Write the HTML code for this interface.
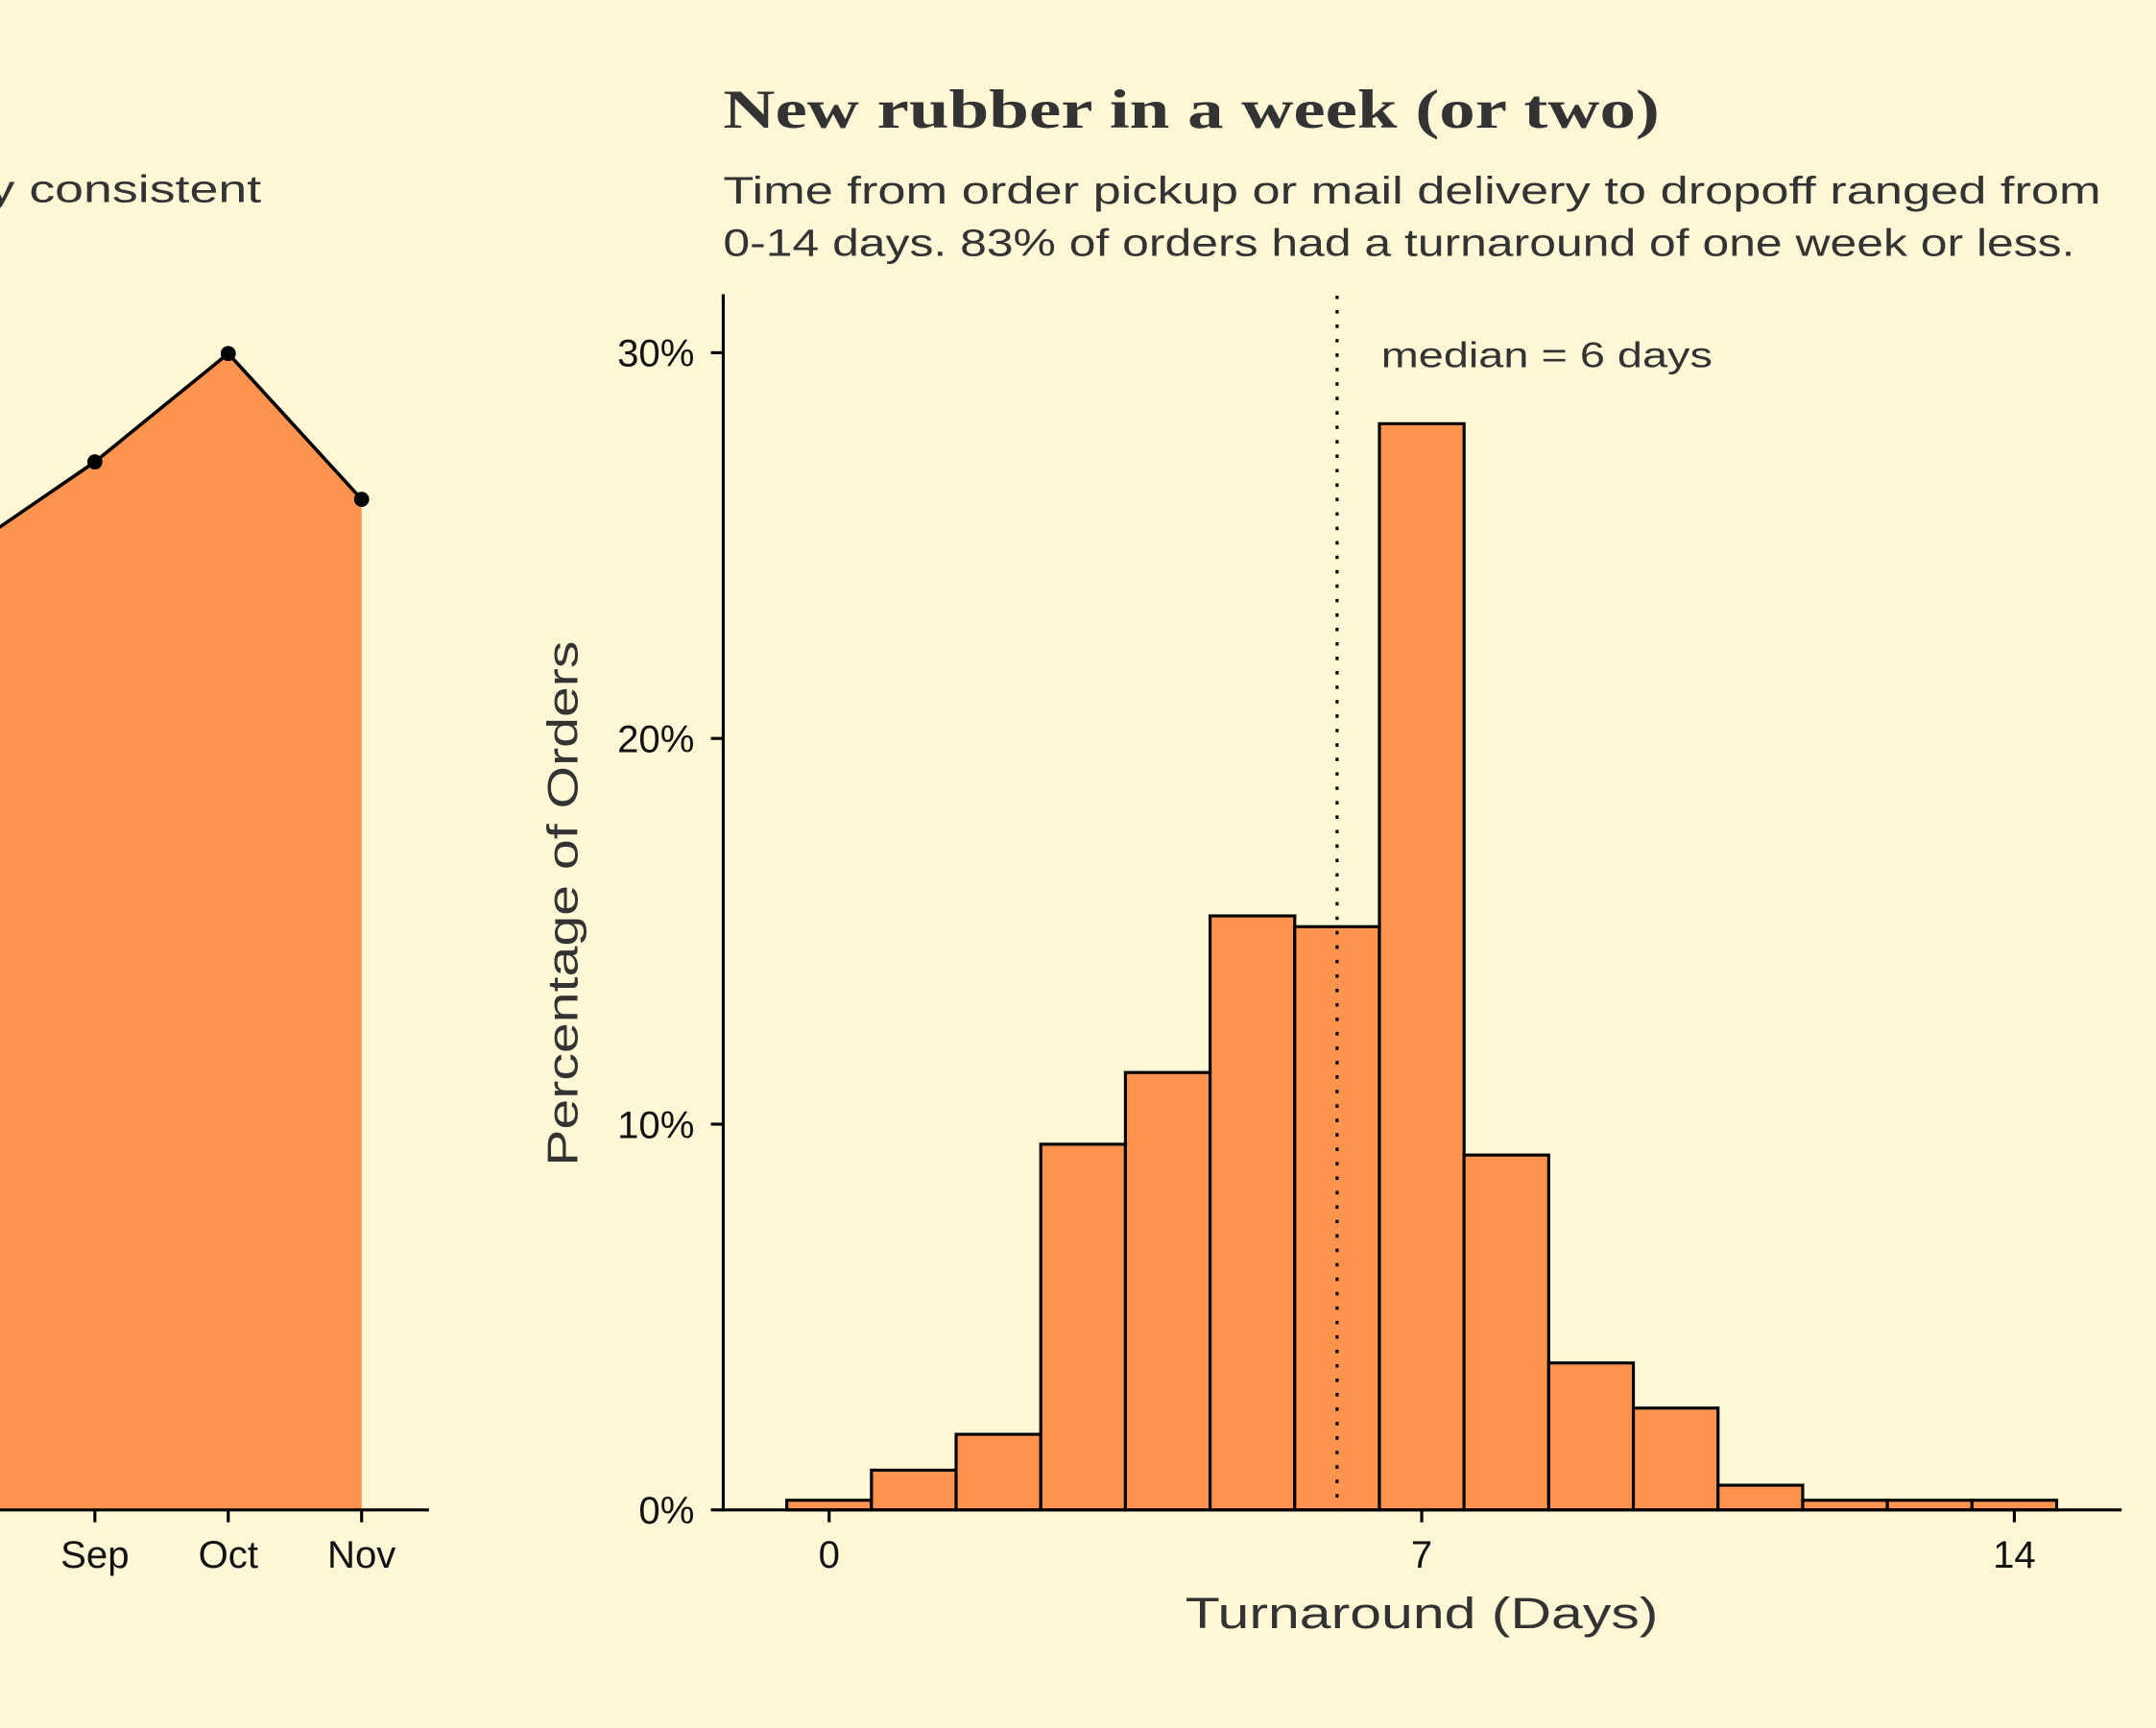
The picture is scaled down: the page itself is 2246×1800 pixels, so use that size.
<!DOCTYPE html>
<html><head><meta charset="utf-8">
<style>
html,body{margin:0;padding:0;background:#FFF7D6;}
svg{display:block;}
text{font-family:"Liberation Sans",sans-serif;}
</style></head>
<body>
<svg id="chart" width="2246" height="1800" viewBox="0 0 1568 1256.6" preserveAspectRatio="none" xmlns="http://www.w3.org/2000/svg">
<rect width="1568" height="1257" fill="#FFF7D6"/>
<text x="-8" y="147" font-size="28" fill="#333" textLength="198" lengthAdjust="spacingAndGlyphs">y consistent</text>
<g id="left"></g>
<text x="526" y="93" font-weight="bold" font-size="40" fill="#333" textLength="681" lengthAdjust="spacingAndGlyphs" style="font-family:'Liberation Serif',serif">New rubber in a week (or two)</text>
<text x="526" y="148" font-size="28" fill="#333" textLength="1002" lengthAdjust="spacingAndGlyphs">Time from order pickup or mail delivery to dropoff ranged from</text>
<text x="526" y="186" font-size="28" fill="#333" textLength="983" lengthAdjust="spacingAndGlyphs">0-14 days. 83% of orders had a turnaround of one week or less.</text>
<g id="hist"></g>
<text x="862" y="1184" font-size="32" fill="#333" textLength="344" lengthAdjust="spacingAndGlyphs">Turnaround (Days)</text>
<text transform="translate(420,848) rotate(-90)" font-size="31" fill="#333" textLength="382" lengthAdjust="spacingAndGlyphs">Percentage of Orders</text>
</svg>
<script>
const days = [0,1,2,3,4,5,6,7,8,9,10,11,12,13,14];
const pct = [0.25,1.03,1.96,9.48,11.34,15.4,15.12,28.16,9.2,3.81,2.64,0.64,0.25,0.25,0.25];
const yTicks = [0,10,20,30];
const yTickLabels = ["0%","10%","20%","30%"];
const xTicks = [0,7,14];
const medianDays = 6;
const months = ["Aug","Sep","Oct","Nov"];
const monthValues = [74.8,77.17,79.98,76.2];

const NS="http://www.w3.org/2000/svg";
function mk(parent,tag,attrs){const e=document.createElementNS(NS,tag);for(const k in attrs)e.setAttribute(k,attrs[k]);parent.appendChild(e);return e;}
const h=document.getElementById('hist');
const X=d=>603+d*61.57;
const Y=v=>1098-v*28.05;
days.forEach((d,i)=>{
  const r=mk(h,'rect',{x:X(d-0.5),y:Y(pct[i]),width:61.57,height:Y(0)-Y(pct[i]),fill:'#FC934E',stroke:'#000','stroke-width':2.2});
  
  
});
const ml=mk(h,'line',{x1:X(medianDays),x2:X(medianDays),y1:215,y2:1098,stroke:'#000','stroke-width':2.2,'stroke-dasharray':'2.5 8'});


const mt=mk(h,'text',{x:X(medianDays)+32,y:267,'font-size':26,fill:'#333',textLength:241,lengthAdjust:'spacingAndGlyphs'});
mt.textContent='median = '+medianDays+' days';


const ya=mk(h,'line',{x1:526,x2:526,y1:214,y2:1099,stroke:'#000','stroke-width':2.2});


const xa=mk(h,'line',{x1:525,x2:1543,y1:1098,y2:1098,stroke:'#000','stroke-width':2.2});


yTicks.forEach((t,i)=>{
  mk(h,'line',{x1:517,x2:526,y1:Y(t),y2:Y(t),stroke:'#000','stroke-width':2.2});
  const tx=mk(h,'text',{x:505,y:Y(t)+10,'font-size':28,'text-anchor':'end',fill:'#111'});
  tx.textContent=yTickLabels[i];
  
  
});
xTicks.forEach(t=>{
  mk(h,'line',{x1:X(t),x2:X(t),y1:1098,y2:1107,stroke:'#000','stroke-width':2.2});
  const tx=mk(h,'text',{x:X(t),y:1140,'font-size':28,'text-anchor':'middle',fill:'#111'});
  tx.textContent=t;
  
  
});
// left partial area chart
const l=document.getElementById('left');
const LX=i=>-28+i*97;
const LY=v=>1098-(v-50)*28.05;
const area=mk(l,'path',{d:'M'+LX(0)+',1098 '+monthValues.map((v,i)=>'L'+LX(i)+','+LY(v)).join(' ')+' L'+LX(monthValues.length-1)+',1098 Z',fill:'#FC934E'});


const line=mk(l,'path',{d:monthValues.map((v,i)=>(i?'L':'M')+LX(i)+','+LY(v)).join(' '),fill:'none',stroke:'#000','stroke-width':2.5});


monthValues.forEach((v,i)=>{
  const c=mk(l,'circle',{cx:LX(i),cy:LY(v),r:5.5,fill:'#000'});
  
  
  mk(l,'line',{x1:LX(i),x2:LX(i),y1:1098,y2:1107,stroke:'#000','stroke-width':2.2});
  const tx=mk(l,'text',{x:LX(i),y:1140,'font-size':28,'text-anchor':'middle',fill:'#111'});
  tx.textContent=months[i];
  
  
});
const la=mk(l,'line',{x1:0,x2:312,y1:1098,y2:1098,stroke:'#000','stroke-width':2.2});


</script>
</body></html>
